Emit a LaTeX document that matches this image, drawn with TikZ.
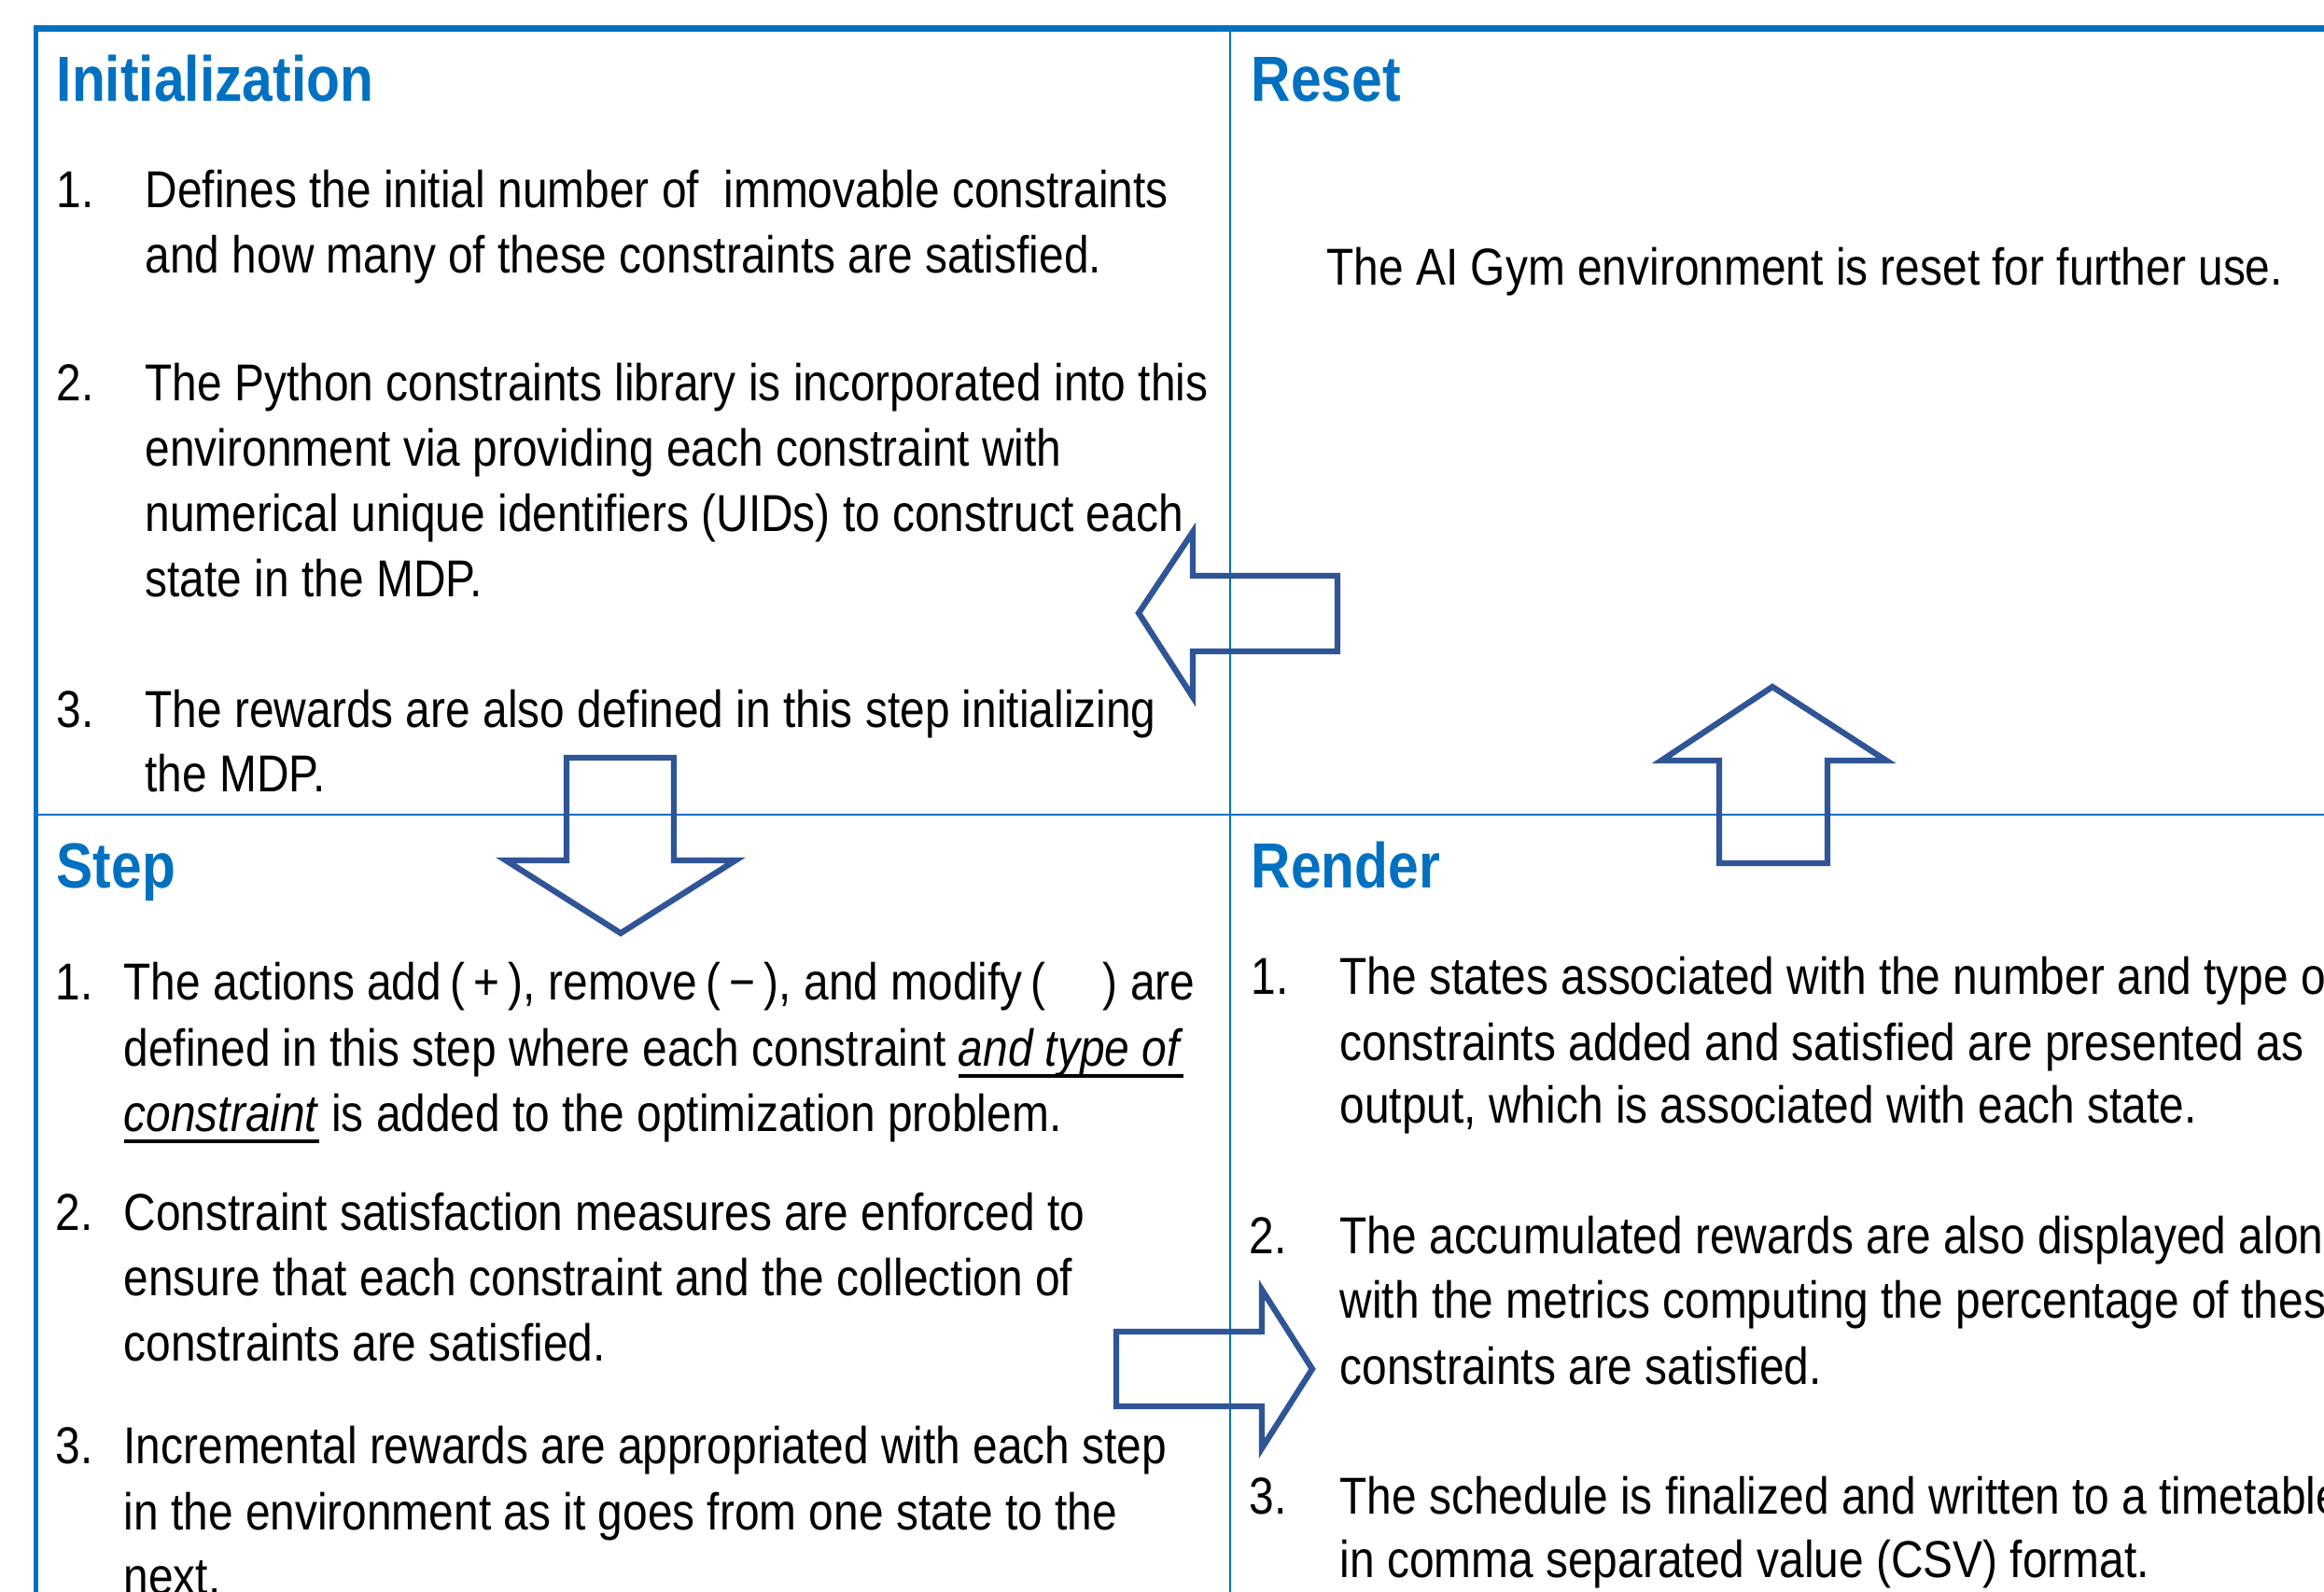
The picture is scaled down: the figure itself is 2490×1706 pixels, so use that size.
\documentclass[tikz,border=0pt]{standalone}
\usepackage{fontspec}
\setmainfont{Liberation Sans}[FakeStretch=0.86]
\definecolor{hdblue}{HTML}{0070C0}
\definecolor{arrowblue}{HTML}{2F5597}

% thick underline for emphasised words
\newlength{\ulwidth}
\newcommand{\thickul}[1]{\settowidth{\ulwidth}{#1}\rlap{\rule[-0.24em]{\ulwidth}{1.2pt}}#1}

\tikzset{
  body/.style={anchor=base west, inner sep=0pt, font=\fontsize{16.7}{20}\selectfont, text=black},
  head/.style={anchor=base west, inner sep=0pt, font=\fontsize{20.5}{24}\selectfont\bfseries, text=hdblue},
  frameline/.style={draw=hdblue, line width=2.1pt},
  sideline/.style={draw=hdblue, line width=1.5pt},
  divider/.style={draw=hdblue, line width=0.7pt},
  blockarrow/.style={draw=arrowblue, line width=1.9pt, line join=miter, miter limit=10},
}

\begin{document}
\begin{tikzpicture}[x=0.3pt, y=-0.3pt]
\useasboundingbox (0,0) rectangle (2490,1706);
\clip (0,0) rectangle (2490,1706);

% outer frame and quadrant dividers
\draw[frameline] (36,30.5) -- (2495,30.5);
\draw[sideline] (38.5,27) -- (38.5,1710);
\draw[divider] (1318,34) -- (1318,1710);
\draw[divider] (41,873) -- (2495,873);

% ---- Initialization ----
\node[head] (hinit) at (60,109) {Initialization};
\node[body] (i1n) at (60,223) {1.};
\node[body] (i1a) at (155,223) {Defines the initial number of\ \ immovable constraints};
\node[body] (i1b) at (155,293) {and how many of these constraints are satisfied.};
\node[body] (i2n) at (60,430) {2.};
\node[body] (i2a) at (155,430) {The Python constraints library is incorporated into this};
\node[body] (i2b) at (155,500) {environment via providing each constraint with};
\node[body] (i2c) at (155,570) {numerical unique identifiers (UIDs) to construct each};
\node[body] (i2d) at (155,640) {state in the MDP.};
\node[body] (i3n) at (60,780) {3.};
\node[body] (i3a) at (155,780) {The rewards are also defined in this step initializing};
\node[body] (i3b) at (155,849) {the MDP.};

% ---- Reset ----
\node[head] (hreset) at (1340,109) {Reset};
\node[body] (r1) at (1421,306) {The AI Gym environment is reset for further use.};

% ---- Step ----
\node[head] (hstep) at (60,952) {Step};
\node[body] (s1n) at (59,1072) {1.};
\node[body] (s1a) at (132,1072) {The actions add\,(\,+\,), remove\,(\,−\,), and modify\,(\hspace{1.1em}) are};
\node[body] (s1b) at (132,1142) {defined in this step where each constraint \thickul{\textit{and type of}}};
\node[body] (s1c) at (132,1212) {\thickul{\textit{constraint}} is added to the optimization problem.};
\node[body] (s2n) at (59,1318) {2.};
\node[body] (s2a) at (132,1318) {Constraint satisfaction measures are enforced to};
\node[body] (s2b) at (132,1388) {ensure that each constraint and the collection of};
\node[body] (s2c) at (132,1458) {constraints are satisfied.};
\node[body] (s3n) at (59,1568) {3.};
\node[body] (s3a) at (132,1568) {Incremental rewards are appropriated with each step};
\node[body] (s3b) at (132,1639) {in the environment as it goes from one state to the};
\node[body] (s3c) at (132,1708) {next.};

% ---- Render ----
\node[head] (hrender) at (1340,952) {Render};
\node[body] (d1n) at (1340,1065) {1.};
\node[body] (d1a) at (1435,1065) {The states associated with the number and type of};
\node[body] (d1b) at (1435,1136) {constraints added and satisfied are presented as};
\node[body] (d1c) at (1435,1203) {output, which is associated with each state.};
\node[body] (d2n) at (1338,1343) {2.};
\node[body] (d2a) at (1435,1343) {The accumulated rewards are also displayed along};
\node[body] (d2b) at (1435,1412) {with the metrics computing the percentage of these};
\node[body] (d2c) at (1435,1483) {constraints are satisfied.};
\node[body] (d3n) at (1338,1622) {3.};
\node[body] (d3a) at (1435,1622) {The schedule is finalized and written to a timetable};
\node[body] (d3b) at (1435,1690) {in comma separated value (CSV) format.};

% ---- block arrows of the cycle ----
% Reset -> Initialization (pointing left)
\draw[blockarrow] (1220,657) -- (1278,570) -- (1278,617) -- (1433,617)
  -- (1433,698) -- (1278,698) -- (1278,747) -- cycle;
% Initialization -> Step (pointing down)
\draw[blockarrow] (607,812) -- (722,812) -- (722,922) -- (788,922)
  -- (665,1000) -- (542,922) -- (607,922) -- cycle;
% Step -> Render (pointing right)
\draw[blockarrow] (1196,1427) -- (1352,1427) -- (1352,1382) -- (1406,1467)
  -- (1352,1552) -- (1352,1507) -- (1196,1507) -- cycle;
% Render -> Reset (pointing up)
\draw[blockarrow] (1842,925) -- (1842,815) -- (1780,815) -- (1899,736)
  -- (2021,815) -- (1958,815) -- (1958,925) -- cycle;
\end{tikzpicture}
\end{document}
